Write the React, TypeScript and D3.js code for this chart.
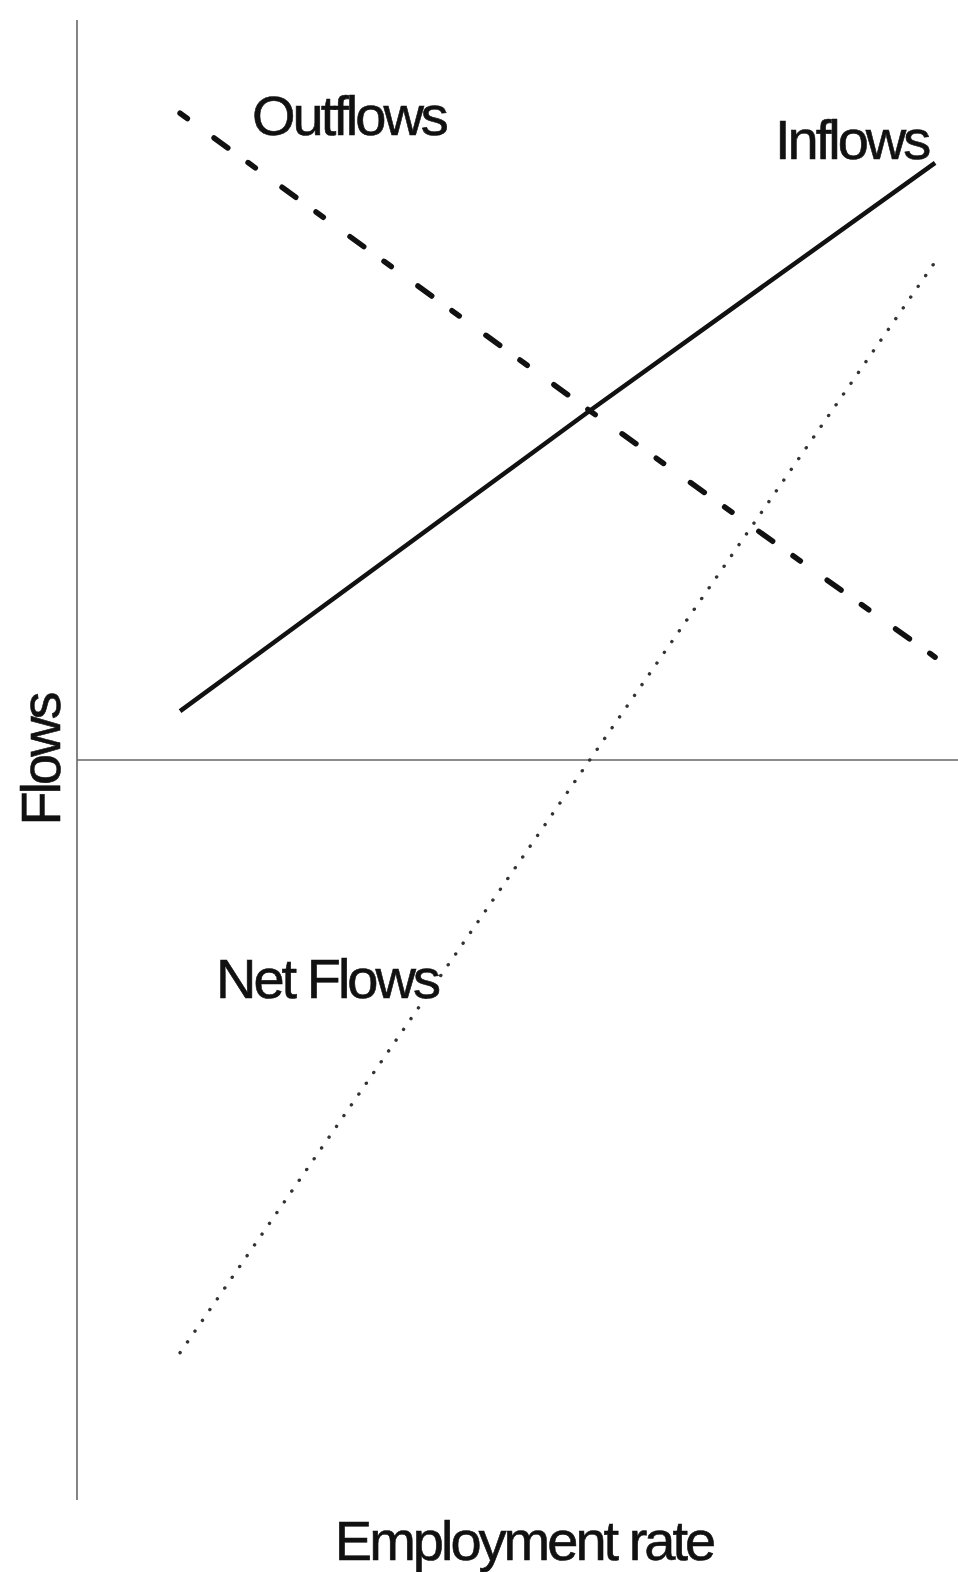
import React, { useEffect, useRef } from 'react'
import * as d3 from 'd3'

// employment rate (arbitrary units) at which the curves were read
const employment = [1.17, 5.82, 9.74]
const inflows = [0.66, 4.72, 8.07]
const outflows = [8.74, 4.72, 1.39]
const netFlows = [-8.01, 0, 6.73]

const seriesLabels = ['Outflows', 'Inflows', 'Net Flows']
const xTitle = 'Employment rate'
const yTitle = 'Flows'

function App() {
  const width = 958
  const height = 1572
  const refSvg = useRef<SVGSVGElement>(null)

  const draw = () => {
    const svg = d3.select(refSvg.current)
    svg.selectAll('*').remove()

    const x = d3.scaleLinear().domain([0, 10]).range([77, 958])
    const y = d3.scaleLinear().domain([-10, 10]).range([1500, 20])

    // axes
    svg
      .append('line')
      .attr('x1', x(0))
      .attr('x2', x(0))
      .attr('y1', y(10))
      .attr('y2', y(-10))
      .attr('stroke', '#666')
      .attr('stroke-width', 1.6)
    svg
      .append('line')
      .attr('x1', x(0))
      .attr('x2', x(10))
      .attr('y1', y(0))
      .attr('y2', y(0))
      .attr('stroke', '#666')
      .attr('stroke-width', 1.6)

    const line = d3
      .line<number>()
      .x((_, i) => x(employment[i]))
      .y((d) => y(d))

    // net flows (dotted)
    svg
      .append('path')
      .datum(netFlows)
      .attr('fill', 'none')
      .attr('stroke', '#333')
      .attr('stroke-width', 3.4)
      .attr('stroke-linecap', 'round')
      .attr('stroke-dasharray', '0.1 13')
      .attr('d', line)

    // outflows (dashed)
    svg
      .append('path')
      .datum(outflows)
      .attr('fill', 'none')
      .attr('stroke', '#111')
      .attr('stroke-width', 5.5)
      .attr('stroke-linecap', 'round')
      .attr('stroke-dasharray', '9 33 17 25')
      .attr('d', line)

    // inflows (solid)
    svg
      .append('path')
      .datum(inflows)
      .attr('fill', 'none')
      .attr('stroke', '#111')
      .attr('stroke-width', 4.5)
      .attr('d', line)

    const font = "'Liberation Sans', Arial, sans-serif"
    const label = (txt: string, tx: number, ty: number, anchor = 'start') =>
      svg
        .append('text')
        .attr('x', tx)
        .attr('y', ty)
        .attr('text-anchor', anchor)
        .attr('font-family', font)
        .attr('font-size', 56)
        .attr('letter-spacing', -3)
        .attr('fill', '#111')
        .attr('stroke', '#111')
        .attr('stroke-width', 0.6)
        .text(txt)

    label(seriesLabels[0], 252, 135)
    label(seriesLabels[1], 775, 159)
    label(seriesLabels[2], 216, 998)
    label(xTitle, 524, 1560, 'middle')
    label(yTitle, 0, 0, 'middle').attr('transform', 'translate(60,760) rotate(-90)')
  }

  useEffect(() => {
    if (refSvg) {
      draw()
    }
  })

  return (
    <svg
      ref={refSvg}
      width={width}
      height={height}
      style={{ position: 'absolute', left: 0, top: 0, background: '#fff' }}
    />
  )
}

export default App
